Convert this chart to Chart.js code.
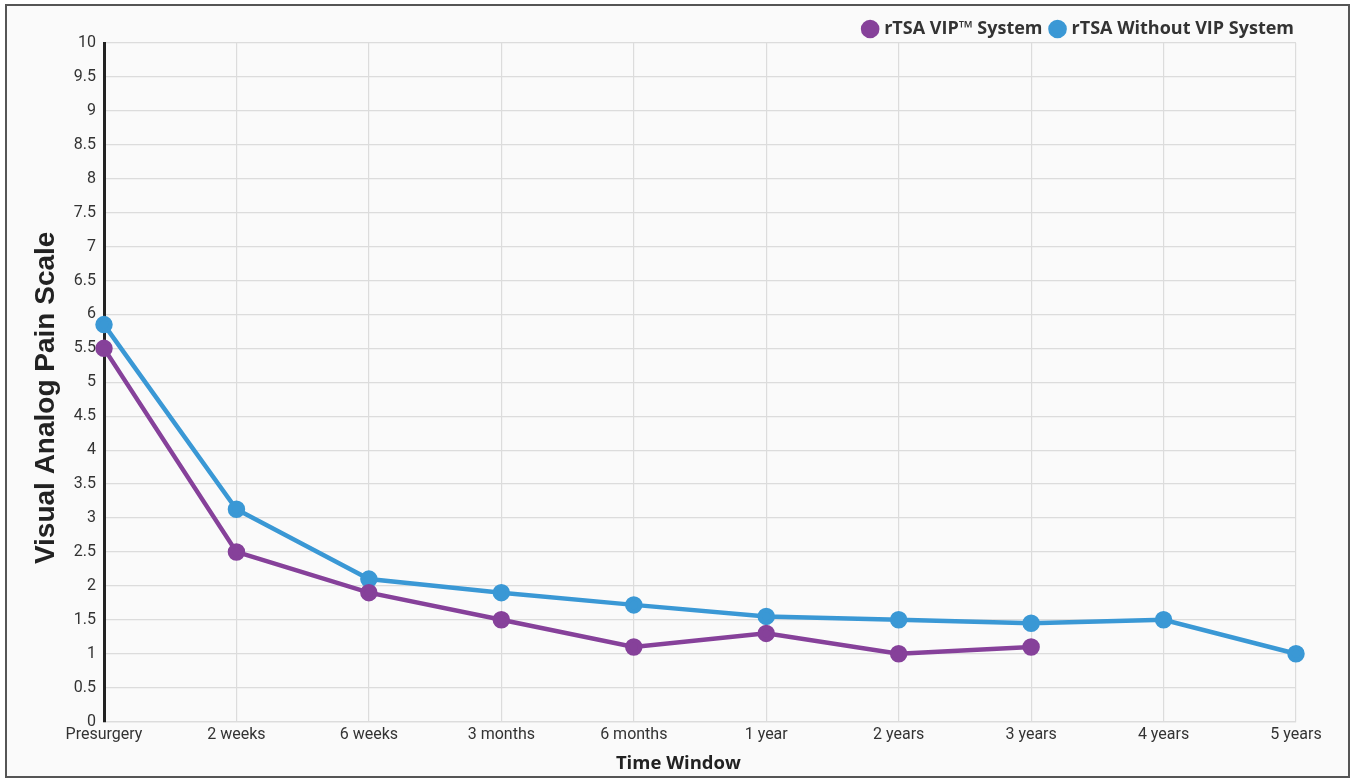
<!DOCTYPE html>
<html><head><meta charset="utf-8">
<script src="https://cdn.jsdelivr.net/npm/chart.js@4"></script>
<style>
html,body{margin:0;padding:0;background:#fff;}
#wrap{position:absolute;left:5px;top:4px;width:1341px;height:770px;border:2px solid #555;background:#fafafa;}
canvas{display:block;}
</style></head><body>
<div id="wrap"><canvas id="c" width="1341" height="770"></canvas></div>
<script>
const categories = ["Presurgery","2 weeks","6 weeks","3 months","6 months","1 year","2 years","3 years","4 years","5 years"];
const vipValues = [5.5, 2.5, 1.9, 1.5, 1.1, 1.3, 1.0, 1.1, null, null];
const withoutVipValues = [5.85, 3.13, 2.1, 1.9, 1.72, 1.55, 1.5, 1.45, 1.5, 1.0];
const seriesNames = ["rTSA VIP\u2122 System", "rTSA Without VIP System"];
const yTicks = [0,0.5,1,1.5,2,2.5,3,3.5,4,4.5,5,5.5,6,6.5,7,7.5,8,8.5,9,9.5,10];
const xTitle = "Time Window";
const yTitle = "Visual Analog Pain Scale";

const purple = '#86419a', blue = '#3a98d5';
const shiftLegend = {
  id: 'shiftLegend',
  afterLayout(chart) {
    const l = chart.legend;
    if (!l) return;
    l.top += 5; l.bottom += 5; l.left += 8; l.right += 8;
  }
};
new Chart(document.getElementById('c'), {
  type: 'line',
  data: {
    labels: categories,
    datasets: [
      {label: seriesNames[0], data: vipValues, borderColor: purple, backgroundColor: purple,
       pointBackgroundColor: purple, pointBorderColor: purple, borderWidth: 4.5, pointRadius: 6.5, tension: 0, spanGaps: false},
      {label: seriesNames[1], data: withoutVipValues, borderColor: blue, backgroundColor: blue,
       pointBackgroundColor: blue, pointBorderColor: blue, borderWidth: 4.5, pointRadius: 6.5, tension: 0}
    ]
  },
  plugins: [shiftLegend],
  options: {
    responsive: false, animation: false,
    layout: {padding: {left: 0, right: 52, top: -1, bottom: 1}},
    plugins: {
      legend: {position: 'top', align: 'end',
        labels: {usePointStyle: true, pointStyle: 'circle', boxWidth: 10, boxHeight: 10, padding: 10,
          color: '#333', font: {family: 'Open Sans', weight: 'bold', size: 18}}},
      tooltip: {enabled: false}
    },
    scales: {
      x: {
        grid: {color: '#dcdcdc', lineWidth: 1.2, drawTicks: false},
        border: {color: '#dcdcdc', width: 1.2},
        ticks: {color: '#333', font: {family: 'Roboto', size: 16}, padding: 4, maxRotation: 0, autoSkip: false},
        title: {display: true, text: xTitle + '\u0020'.repeat(9), color: '#222', font: {family: 'Open Sans', weight: 'bold', size: 18.5}, padding: {top: 4, bottom: 0}}
      },
      y: {
        min: 0, max: 10,
        afterBuildTicks: s => { s.ticks = yTicks.map(v => ({value: v})); },
        afterFit: s => { s.width = 97; },
        grid: {color: '#dcdcdc', lineWidth: 1.2, drawTicks: false},
        border: {color: '#222', width: 3},
        ticks: {color: '#333', font: {family: 'Roboto', size: 16}, padding: 8, callback: v => String(v)},
        title: {display: true, text: yTitle + '\u0020'.repeat(4), color: '#222', font: {family: 'Liberation Sans', weight: 'bold', size: 28}, padding: {top: 22, bottom: 0}}
      }
    }
  }
});
</script>
</body></html>
